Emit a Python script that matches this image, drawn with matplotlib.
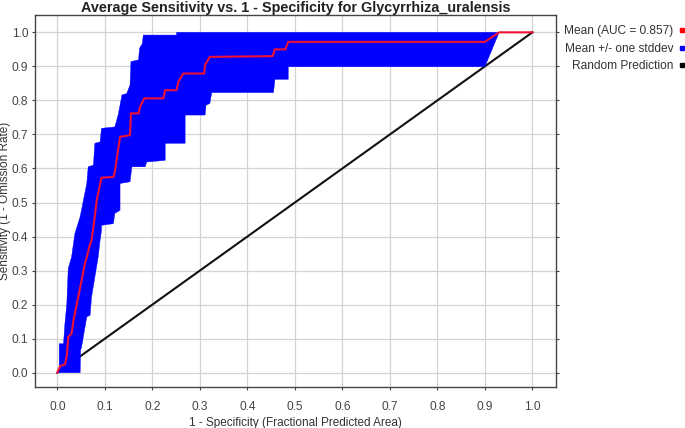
import numpy as np
import matplotlib
matplotlib.use("Agg")
import matplotlib.pyplot as plt
from matplotlib.lines import Line2D

plt.rcParams["font.family"] = ["Liberation Sans", "DejaVu Sans"]

# --- donnees ---
title = "Average Sensitivity vs. 1 - Specificity for Glycyrrhiza_uralensis"
auc = 0.857

# courbe moyenne (pas a pas)
mean_x = [0.0, 0.006, 0.016, 0.020, 0.023, 0.030, 0.034, 0.044, 0.051, 0.058,
          0.062, 0.069, 0.072, 0.076, 0.083, 0.093, 0.118, 0.121, 0.132, 0.153,
          0.155, 0.171, 0.174, 0.183, 0.223, 0.227, 0.251, 0.255, 0.265, 0.309,
          0.311, 0.321, 0.453, 0.458, 0.480, 0.486, 0.900, 0.930, 1.0]
mean_y = [0.0, 0.020, 0.024, 0.051, 0.105, 0.115, 0.154, 0.222, 0.271, 0.320,
          0.340, 0.379, 0.389, 0.428, 0.507, 0.573, 0.575, 0.590, 0.693, 0.698,
          0.762, 0.762, 0.781, 0.806, 0.806, 0.830, 0.830, 0.855, 0.879, 0.879,
          0.904, 0.928, 0.930, 0.950, 0.950, 0.972, 0.972, 1.0, 1.0]

# bord haut de la bande (moyenne + ecart-type)
upper_x = [0.0, 0.004, 0.004, 0.013, 0.016, 0.020, 0.023, 0.030, 0.037, 0.048,
           0.055, 0.062, 0.065, 0.076, 0.079, 0.090, 0.093, 0.121, 0.125, 0.128,
           0.132, 0.136, 0.146, 0.153, 0.155, 0.171, 0.173, 0.179, 0.181, 0.251,
           0.251, 0.930]
upper_y = [0.0, 0.0, 0.085, 0.085, 0.144, 0.203, 0.306, 0.340, 0.409, 0.458,
           0.507, 0.556, 0.605, 0.610, 0.674, 0.678, 0.718, 0.722, 0.742, 0.757,
           0.786, 0.816, 0.820, 0.845, 0.914, 0.919, 0.953, 0.967, 0.992, 0.992,
           1.0, 1.0]

# bord bas de la bande (moyenne - ecart-type)
lower_x = [0.004, 0.048, 0.049, 0.051, 0.062, 0.069, 0.072, 0.079, 0.086, 0.090,
           0.093, 0.093, 0.118, 0.121, 0.132, 0.132, 0.153, 0.157, 0.185, 0.188,
           0.227, 0.227, 0.269, 0.269, 0.311, 0.313, 0.321, 0.325, 0.455, 0.458,
           0.486, 0.486, 0.900, 0.930]
lower_y = [0.0, 0.0, 0.066, 0.075, 0.164, 0.169, 0.222, 0.281, 0.340, 0.389,
           0.418, 0.433, 0.438, 0.468, 0.477, 0.556, 0.561, 0.605, 0.605, 0.619,
           0.624, 0.674, 0.674, 0.757, 0.757, 0.786, 0.791, 0.823, 0.823, 0.862,
           0.862, 0.899, 0.899, 1.0]

random_x = [0.0, 1.0]
random_y = [0.0, 1.0]

ticks = np.round(np.arange(0, 1.01, 0.1), 1)

fig = plt.figure(figsize=(6.85, 4.28), dpi=100)
ax = fig.add_axes([0.0511, 0.0958, 0.7601, 0.8692])

ax.plot(random_x, random_y, color="#111111", lw=1.5, zorder=2)
band_x = np.concatenate([upper_x, lower_x[::-1]])
band_y = np.concatenate([upper_y, lower_y[::-1]])
ax.fill(band_x, band_y, color="#0000ff", lw=0.3, zorder=3)
ax.plot(mean_x, mean_y, color="#ee1133", lw=1.5, zorder=4)

ax.set_xlim(-0.047, 1.049)
ax.set_ylim(-0.042, 1.051)
ax.set_xticks(ticks)
ax.set_yticks(ticks)
ax.set_xticklabels([f"{t:.1f}" for t in ticks])
ax.set_yticklabels([f"{t:.1f}" for t in ticks])
ax.grid(True, color="#d4d4d4", lw=0.9, zorder=0)
ax.set_axisbelow(True)
ax.tick_params(direction="out", length=2, width=0.8, colors="#444444",
               labelsize=8.6, right=True)
ax.tick_params(axis="x", pad=8)
ax.tick_params(axis="y", pad=3)
for s in ax.spines.values():
    s.set_color("#444444")
    s.set_linewidth(1.0)

ax.set_xlabel("1 - Specificity (Fractional Predicted Area)", fontsize=8.5,
              color="#333333", labelpad=3)
ax.set_ylabel("Sensitivity (1 - Omission Rate)", fontsize=8.5,
              color="#333333")
ax.yaxis.set_label_coords(-0.046, 0.5)
ax.set_title(title, fontsize=10.4, fontweight="bold", color="#222222", pad=2.5)

handles = [Line2D([], [], ls="none", marker="s", ms=3.5, color=c)
           for c in ["#ff0000", "#0000ff", "#000000"]]
labels = [f"Mean (AUC = {auc:.3f})", "Mean +/- one stddev", "Random Prediction"]
fig.legend(handles, labels, loc="upper right", bbox_to_anchor=(1.012, 0.958),
           markerfirst=False, frameon=False, fontsize=8.6, handlelength=0.6,
           handletextpad=0.45, labelspacing=0.47, borderaxespad=0.2,
           labelcolor="#333333")

fig.savefig("out.png", dpi=100)
